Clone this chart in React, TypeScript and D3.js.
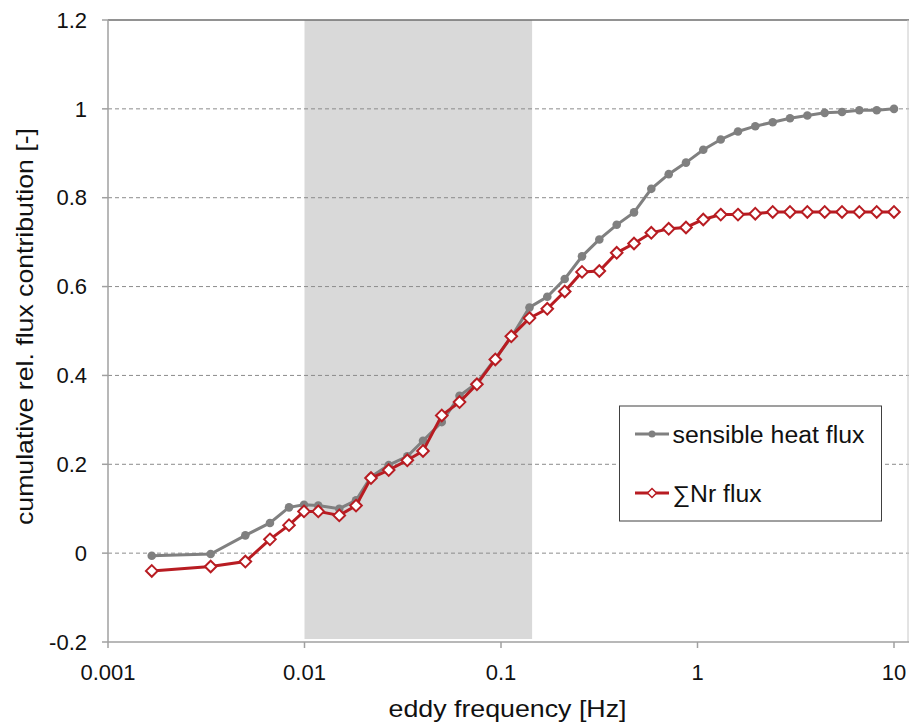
import React from "react";
import * as d3 from "d3";

// eddy frequency [Hz] of each point
const freqs = [
  0.00167, 0.00333, 0.005, 0.00667, 0.00834, 0.00994, 0.01175, 0.01503, 0.01829, 0.0218,
  0.02682, 0.03336, 0.0401, 0.04996, 0.0615, 0.07541, 0.09356, 0.1128, 0.1396, 0.172,
  0.211, 0.2584, 0.3165, 0.388, 0.4752, 0.582, 0.7136, 0.8739, 1.07, 1.313,
  1.607, 1.968, 2.414, 2.956, 3.622, 4.44, 5.438, 6.661, 8.166, 10.0,
];
const sensibleHeat = [
  -0.006, -0.002, 0.04, 0.068, 0.103, 0.109, 0.107, 0.1, 0.119, 0.172,
  0.198, 0.218, 0.253, 0.295, 0.354, 0.383, 0.438, 0.486, 0.553, 0.577,
  0.617, 0.668, 0.706, 0.739, 0.767, 0.82, 0.853, 0.879, 0.908, 0.931,
  0.949, 0.961, 0.97, 0.979, 0.985, 0.991, 0.993, 0.997, 0.997, 1.0,
];
const nrFlux = [
  -0.04, -0.03, -0.019, 0.031, 0.063, 0.094, 0.094, 0.085, 0.107, 0.169,
  0.187, 0.209, 0.23, 0.31, 0.34, 0.38, 0.436, 0.488, 0.529, 0.55,
  0.589, 0.633, 0.635, 0.676, 0.697, 0.721, 0.73, 0.733, 0.751, 0.762,
  0.762, 0.764, 0.768, 0.768, 0.768, 0.768, 0.768, 0.768, 0.768, 0.768,
];
const xTicks = [0.001, 0.01, 0.1, 1, 10];
const xTickLabels = ["0.001", "0.01", "0.1", "1", "10"];
const yTicks = [-0.2, 0, 0.2, 0.4, 0.6, 0.8, 1, 1.2];
const yTickLabels = ["-0.2", "0", "0.2", "0.4", "0.6", "0.8", "1", "1.2"];
const shadedBand = [0.01, 0.144];
const seriesNames = ["sensible heat flux", "\u2211Nr flux"];

const W = 909, H = 724;
const left = 108, right = 908, top = 20, bottom = 642;
const font = "'Liberation Sans', Arial, sans-serif";
const grey = "#808080";
const red = "#b81c22";
const ink = "#111";

export default function App() {
  const x = d3.scaleLog().domain([0.001, 10]).range([left, 894]);
  const y = d3.scaleLinear().domain([-0.2, 1.2]).range([bottom, top]);

  const line = d3.line<number>()
    .x((_, i) => x(freqs[i]))
    .y((d) => y(d));

  const diamond = (cx: number, cy: number, r: number) =>
    `M${cx},${cy - r}L${cx + r},${cy}L${cx},${cy + r}L${cx - r},${cy}Z`;

  return (
    <svg width={W} height={H} style={{ position: "absolute", left: 0, top: 0, background: "#fff" }}
      fontFamily={font}>
      {/* shaded frequency band */}
      <rect x={x(shadedBand[0])} y={top} width={x(shadedBand[1]) - x(shadedBand[0])}
        height={bottom - 3 - top} fill="#d9d9d9" />

      {/* gridlines */}
      {yTicks.filter((t) => t !== -0.2).map((t) => (
        <line key={t} x1={left} x2={W} y1={y(t)} y2={y(t)}
          stroke={t === 1.2 ? "#6e6e6e" : "#8c8c8c"} strokeWidth={t === 1.2 ? 1.5 : 1}
          strokeDasharray={t === 1.2 ? undefined : "4,3"} />
      ))}
      <line x1={right} x2={right} y1={top} y2={bottom} stroke="#c8c8c8" strokeWidth={1} />

      {/* axes */}
      <line x1={left} x2={left} y1={top} y2={bottom} stroke="#a0a0a0" strokeWidth={1.5} />
      <line x1={left} x2={W} y1={bottom} y2={bottom} stroke="#a0a0a0" strokeWidth={1.5} />
      {yTicks.map((t, i) => (
        <g key={t}>
          <line x1={left - 6} x2={left} y1={y(t)} y2={y(t)} stroke="#a0a0a0" strokeWidth={1.5} />
          <text x={87} y={y(t)} dy="0.35em" textAnchor="end" fontSize={22} fill={ink}>
            {yTickLabels[i]}
          </text>
        </g>
      ))}
      {xTicks.map((t, i) => (
        <g key={t}>
          <line x1={x(t)} x2={x(t)} y1={bottom} y2={bottom + 6} stroke="#a0a0a0" strokeWidth={1.5} />
          <text x={x(t)} y={680} textAnchor="middle" fontSize={22} fill={ink}>
            {xTickLabels[i]}
          </text>
        </g>
      ))}

      <text x={507.5} y={717} textAnchor="middle" fontSize={24} fill={ink}
        textLength={238} lengthAdjust="spacingAndGlyphs">
        eddy frequency [Hz]
      </text>
      <text transform="translate(33,326.5) rotate(-90)" textAnchor="middle"
        fontSize={24} fill={ink} textLength={397} lengthAdjust="spacingAndGlyphs">
        cumulative rel. flux contribution [-]
      </text>

      {/* sensible heat flux */}
      <path d={line(sensibleHeat) || ""} fill="none" stroke={grey} strokeWidth={3} />
      {sensibleHeat.map((v, i) => (
        <circle key={i} cx={x(freqs[i])} cy={y(v)} r={4.3} fill={grey} />
      ))}

      {/* Nr flux */}
      <path d={line(nrFlux) || ""} fill="none" stroke={red} strokeWidth={3} />
      {nrFlux.map((v, i) => (
        <path key={i} d={diamond(x(freqs[i]), y(v), 5.8)} fill="#fff" stroke={red} strokeWidth={2} />
      ))}

      {/* legend */}
      <rect x={619.5} y={406} width={262} height={115} fill="#fff" stroke="#404040" strokeWidth={1} />
      <line x1={635} x2={669} y1={434} y2={434} stroke={grey} strokeWidth={3} />
      <circle cx={652} cy={434} r={3.5} fill={grey} />
      <text x={672.5} y={443} fontSize={23} fill={ink} textLength={192} lengthAdjust="spacingAndGlyphs">
        {seriesNames[0]}
      </text>
      <line x1={635} x2={669} y1={493} y2={493} stroke={red} strokeWidth={3} />
      <path d={diamond(652, 493, 4.5)} fill="#fff" stroke={red} strokeWidth={1.5} />
      <text x={672.5} y={501.5} fontSize={23} fill={ink} textLength={89} lengthAdjust="spacingAndGlyphs">
        {seriesNames[1]}
      </text>
    </svg>
  );
}
